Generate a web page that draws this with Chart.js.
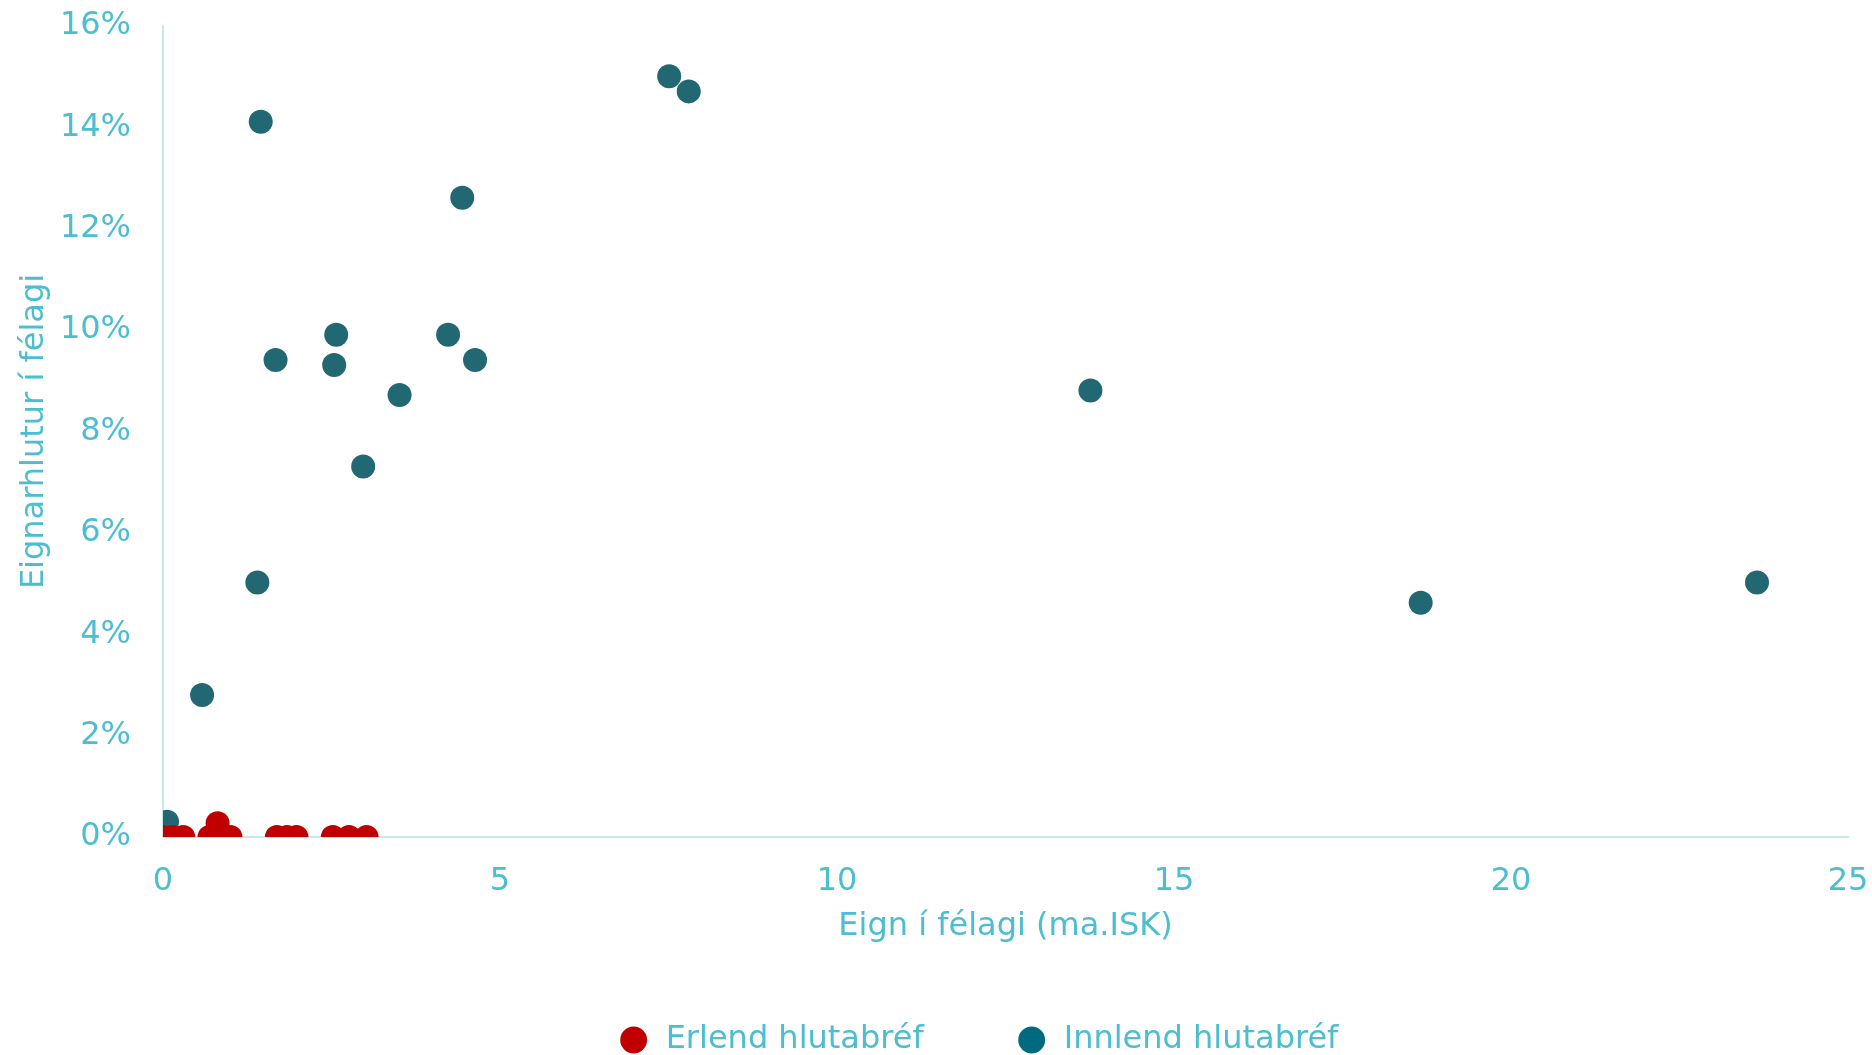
<!DOCTYPE html>
<html>
<head>
<meta charset="utf-8">
<script src="https://cdn.jsdelivr.net/npm/chart.js@4"></script>
<style>
  html, body { margin: 0; padding: 0; background: #fff; }
  .content { width: 1872px; height: 1055px; position: relative; }
</style>
</head>
<body>
<div class="content"><canvas id="chart"></canvas></div>
<script>
const erlendX = [0, 0.14, 0.3, 0.69, 0.83, 0.81, 1.0, 1.69, 1.84, 1.98, 2.52, 2.76, 3.02]
const erlendY = [0, 0, 0, 0, 0, 0.27, 0, 0, 0, 0, 0, 0, 0]
const innlendX = [0.06, 0.58, 1.40, 1.45, 1.67, 2.54, 2.57, 2.97, 3.51, 4.23, 4.44, 4.63, 7.51, 7.80, 13.76, 18.66, 23.65]
const innlendY = [0.30, 2.80, 5.02, 14.11, 9.41, 9.31, 9.91, 7.31, 8.72, 9.91, 12.61, 9.41, 15.01, 14.71, 8.81, 4.62, 5.02]
const seriesNames = ['Erlend hlutabréf', 'Innlend hlutabréf']
const xTicks = [0, 5, 10, 15, 20, 25]
const yTicks = [0, 2, 4, 6, 8, 10, 12, 14, 16]

const txt = '#4dbdd0'
const axisLine = '#c7e7ee'
const red = '#c00000'
const teal = '#226872'
const tealLegend = '#006a7f'

function toPoints(xs, ys) {
    return xs.map((x, i) => ({x: x, y: ys[i]}))
}

// nudges the legend into the spot it has in the original
const legendShift = {
    id: 'legendShift',
    afterLayout(chart) {
        const lg = chart.legend
        lg.left += 54; lg.right += 54
        lg.top += 11; lg.bottom += 11
    }
}

Chart.defaults.font.family = "'DejaVu Sans', Verdana, sans-serif"
Chart.defaults.font.size = 32
Chart.defaults.color = txt

const ctx = document.getElementById('chart').getContext('2d')
new Chart(ctx, {
    type: 'scatter',
    data: {
        datasets: [{
            label: seriesNames[0],
            data: toPoints(erlendX, erlendY),
            backgroundColor: red,
            borderColor: red,
            borderWidth: 0,
            pointRadius: 12,
            pointHoverRadius: 12
        }, {
            label: seriesNames[1],
            data: toPoints(innlendX, innlendY),
            backgroundColor: teal,
            borderColor: teal,
            borderWidth: 0,
            pointRadius: 12,
            pointHoverRadius: 12
        }]
    },
    options: {
        responsive: true,
        maintainAspectRatio: false,
        animation: false,
        layout: {padding: {top: 26, right: 24, left: 0, bottom: 0}},
        plugins: {
            tooltip: {enabled: false},
            legend: {
                position: 'bottom',
                labels: {
                    usePointStyle: true,
                    boxWidth: 34,
                    boxHeight: 19,
                    padding: 92,
                    color: txt,
                    font: {size: 32},
                    generateLabels: (chart) => seriesNames.map((name, i) => ({
                        text: name,
                        fillStyle: i === 0 ? red : tealLegend,
                        strokeStyle: i === 0 ? red : tealLegend,
                        lineWidth: 0,
                        pointStyle: 'circle',
                        fontColor: txt,
                        datasetIndex: i
                    }))
                }
            }
        },
        scales: {
            x: {
                type: 'linear',
                min: 0,
                max: 25,
                afterBuildTicks: (scale) => { scale.ticks = xTicks.map(v => ({value: v})) },
                afterFit: (scale) => {
                    scale.height = 84
                    scale.paddingLeft = 0
                    scale.paddingRight = 0
                },
                grid: {display: false, drawTicks: false},
                border: {display: true, color: axisLine, width: 2},
                ticks: {padding: 25, color: txt, font: {size: 32}},
                title: {
                    display: true,
                    text: 'Eign í félagi (ma.ISK)',
                    color: txt,
                    font: {size: 32},
                    padding: {top: 0, bottom: -25}
                }
            },
            y: {
                type: 'linear',
                min: 0,
                max: 16,
                afterBuildTicks: (scale) => { scale.ticks = yTicks.map(v => ({value: v})) },
                afterFit: (scale) => {
                    scale.width = 163
                    scale.paddingTop = 0
                    scale.paddingBottom = 0
                },
                grid: {display: false, drawTicks: false},
                border: {display: true, color: axisLine, width: 2},
                ticks: {
                    padding: 32,
                    color: txt,
                    font: {size: 32},
                    callback: (v) => v + '%'
                },
                title: {
                    display: true,
                    text: 'Eignarhlutur í félagi',
                    color: txt,
                    font: {size: 32},
                    padding: {top: 15, bottom: 0}
                }
            }
        }
    },
    plugins: [legendShift]
})
</script>
</body>
</html>
